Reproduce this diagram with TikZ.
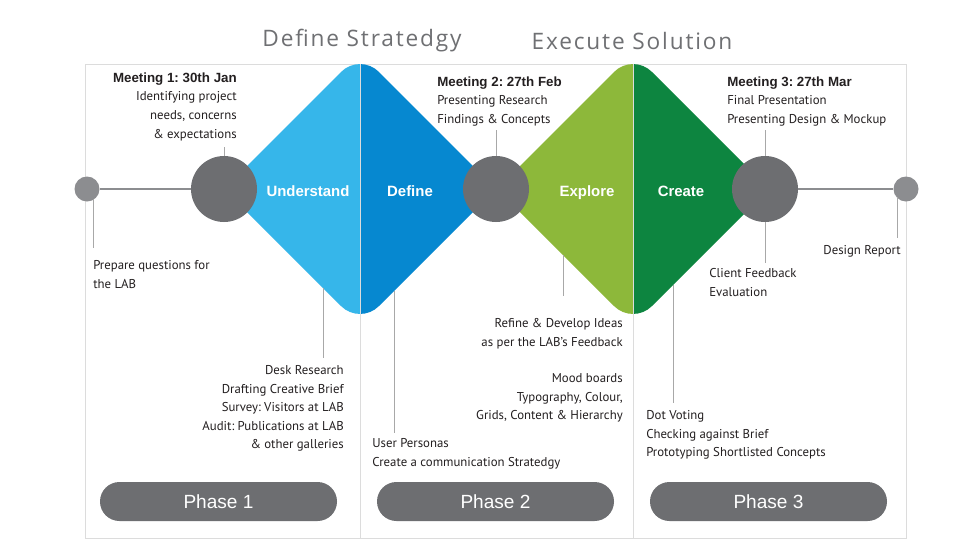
\documentclass[tikz,border=0pt]{standalone}
\usepackage{fontspec}
\setmainfont{PT Sans}
\newfontfamily\arialfont{Liberation Sans}
\newfontfamily\titlefont[LetterSpace=8]{Open Sans}
\frenchspacing
\definecolor{lblue}{HTML}{36B6EA}
\definecolor{dblue}{HTML}{0688D0}
\definecolor{lgreen}{HTML}{8DB83A}
\definecolor{dgreen}{HTML}{0D8540}
\definecolor{dotgray}{HTML}{6D6E71}
\definecolor{smallgray}{HTML}{8C8D90}
\definecolor{linegray}{HTML}{A8A8A8}
\definecolor{framegray}{HTML}{DCDCDC}
\definecolor{txt}{HTML}{231F20}
\definecolor{titlegray}{HTML}{6F7073}
\begin{document}
\begin{tikzpicture}[x=0.75pt,y=-0.75pt,
  body/.style={font=\fontsize{9.6pt}{13.9pt}\selectfont, text=txt, inner sep=0pt},
  bigdot/.style={circle, fill=dotgray, minimum size=49.5pt, inner sep=0pt},
  smalldot/.style={circle, fill=smallgray, minimum size=18.75pt, inner sep=0pt},
  stage/.style={font=\arialfont\bfseries\fontsize{11.2pt}{13pt}\selectfont, text=white, inner sep=0pt, anchor=base},
  pill/.style={fill=dotgray, rounded corners=14.6pt, minimum width=177.75pt, minimum height=29.25pt, inner sep=0pt, text=white, font=\arialfont\fontsize{14.3pt}{16pt}\selectfont},
  heading/.style={font=\titlefont\fontsize{17pt}{20pt}\selectfont, text=titlegray, inner sep=0pt},
  conn/.style={draw=linegray, line width=0.75pt},
  axis/.style={draw=smallgray, line width=1.5pt},
  framel/.style={draw=framegray, line width=0.6pt}
]
\useasboundingbox (0,0) rectangle (960,540);
\fill[white] (0,0) rectangle (960,540);

% frame
\draw[framel] (85,64) rectangle (906,538);

% diamonds
\begin{scope}
  \clip (0,0) rectangle (360,540);
  \fill[lblue, rounded corners=20pt] (224,189) -- (360,53) -- (496,189) -- (360,325) -- cycle;
\end{scope}
\begin{scope}
  \clip (360,0) rectangle (633,540);
  \fill[dblue, rounded corners=20pt] (224,189) -- (360,53) -- (496,189) -- (360,325) -- cycle;
\end{scope}
\begin{scope}
  \clip (0,0) rectangle (633,540);
  \fill[lgreen, rounded corners=20pt] (497,189) -- (633,53) -- (769,189) -- (633,325) -- cycle;
\end{scope}
\begin{scope}
  \clip (633,0) rectangle (960,540);
  \fill[dgreen, rounded corners=20pt] (497,189) -- (633,53) -- (769,189) -- (633,325) -- cycle;
\end{scope}
\draw[framel] (360,64) -- (360,538);
\draw[framel] (633,64) -- (633,538);

% headings
\node[heading] (h1) at (362,41) {Define Stratedgy};
\node[heading] (h2) at (632,41) {Execute Solution};

% stage labels
\node[stage] (su) at (308,196) {Understand};
\node[stage] (sd) at (410,196) {Define};
\node[stage] (se) at (587,196) {Explore};
\node[stage] (sc) at (681,196) {Create};

% dots
\node[smalldot] (s0) at (87,189) {};
\node[smalldot] (s4) at (906,189) {};
\node[bigdot] (m1) at (224,189) {};
\node[bigdot] (m2) at (496,189) {};
\node[bigdot] (m3) at (765,189) {};

\draw[axis] (s0) -- (m1);
\draw[axis] (m3) -- (s4);

% coordinates for connector ends
\coordinate (m1t) at (224,147);
\coordinate (m2t) at (496,130);
\coordinate (m3t) at (765,130);
\coordinate (m3b) at (765,263);
\coordinate (s0a) at (93,199);
\coordinate (s0b) at (93,248);
\coordinate (s4a) at (897,197);
\coordinate (s4b) at (897,238);
\coordinate (e1a) at (323,288);
\coordinate (e1b) at (323,358);
\coordinate (e2a) at (394,291);
\coordinate (e2b) at (394,433);
\coordinate (e3a) at (563,255);
\coordinate (e3b) at (563,296);
\coordinate (e4a) at (673,285);
\coordinate (e4b) at (673,403);

\draw[conn] (m1t) -- (m1.north);
\draw[conn] (m2t) -- (m2.north);
\draw[conn] (m3t) -- (m3.north);
\draw[conn] (m3.south) -- (m3b);
\draw[conn] (s0a) -- (s0b);
\draw[conn] (s4a) -- (s4b);
\draw[conn] (e1a) -- (e1b);
\draw[conn] (e2a) -- (e2b);
\draw[conn] (e3a) -- (e3b);
\draw[conn] (e4a) -- (e4b);

% texts
\node[body, anchor=north east, align=right] (t1) at (237,72.5)
  {{\arialfont\bfseries\fontsize{10pt}{13.9pt}\selectfont Meeting 1: 30th Jan}\\Identifying project\\needs, concerns\\\& expectations};
\node[body, anchor=north west, align=left] (t2) at (437,76.5)
  {{\arialfont\bfseries\fontsize{10pt}{13.9pt}\selectfont Meeting 2: 27th Feb}\\Presenting Research\\Findings \& Concepts};
\node[body, anchor=north west, align=left] (t3) at (727,76.5)
  {{\arialfont\bfseries\fontsize{10pt}{13.9pt}\selectfont Meeting 3: 27th Mar}\\Final Presentation\\Presenting Design \& Mockup};
\node[body, anchor=north west, align=left] (t4) at (93,260.5)
  {Prepare questions for\\the LAB};
\node[body, anchor=north east, align=right] (t5) at (344,365.5)
  {Desk Research\\Drafting Creative Brief\\Survey: Visitors at LAB\\Audit: Publications at LAB\\\& other galleries};
\node[body, anchor=north west, align=left] (t6) at (372,438.5)
  {User Personas\\Create a communication Stratedgy};
\node[body, anchor=north east, align=right] (t7) at (623,318.5)
  {Refine \& Develop Ideas\\as per the LAB’s Feedback};
\node[body, anchor=north east, align=right] (t8) at (623,373.5)
  {Mood boards\\Typography, Colour,\\Grids, Content \& Hierarchy};
\node[body, anchor=north west, align=left] (t9) at (646,410.5)
  {Dot Voting\\Checking against Brief\\Prototyping Shortlisted Concepts};
\node[body, anchor=north west, align=left] (t10) at (709,268.5)
  {Client Feedback\\Evaluation};
\node[body, anchor=north east, align=right] (t11) at (901,245.5)
  {Design Report};

% phases
\node[pill] (p1) at (218.5,501.5) {Phase 1};
\node[pill] (p2) at (495.5,501.5) {Phase 2};
\node[pill] (p3) at (768.5,501.5) {Phase 3};
\end{tikzpicture}
\end{document}
